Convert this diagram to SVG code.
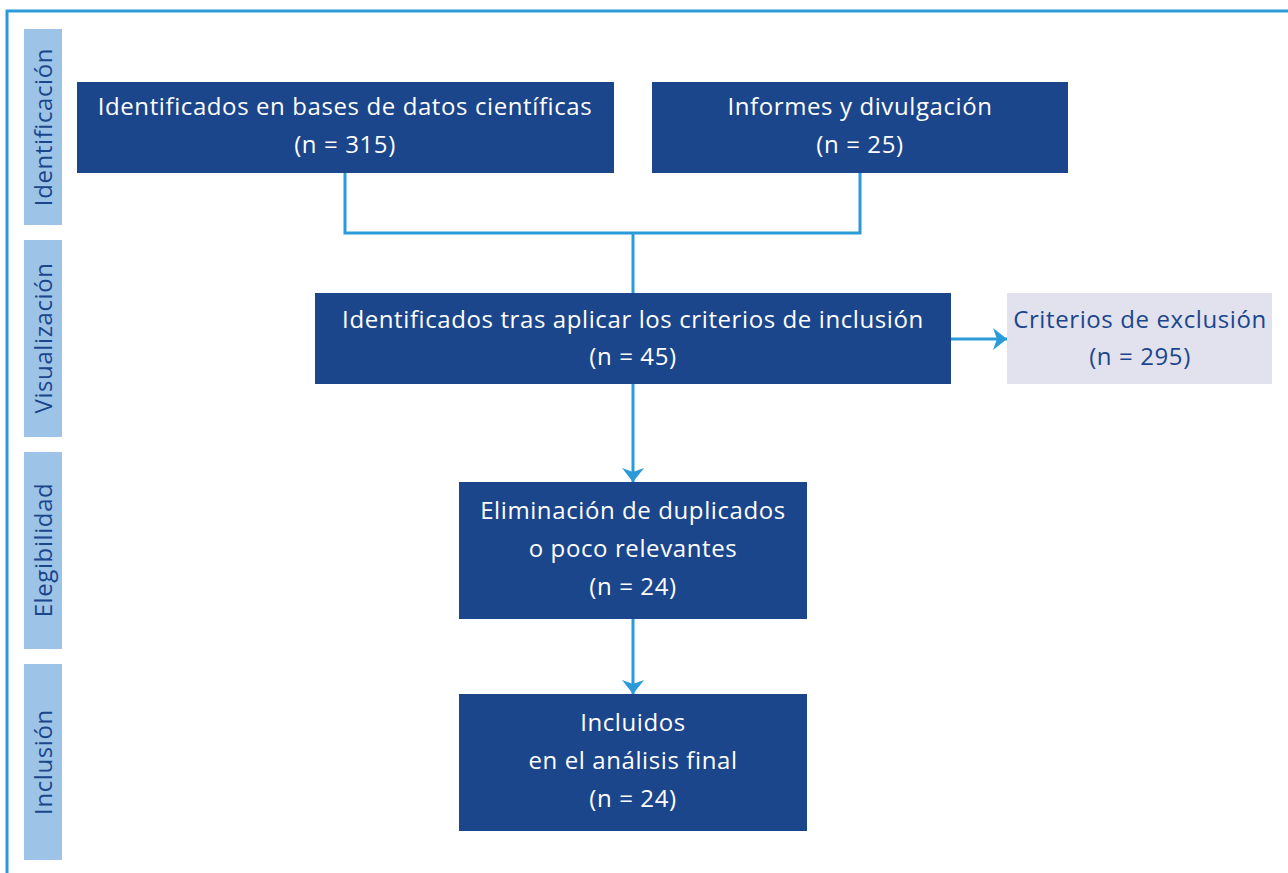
<svg xmlns="http://www.w3.org/2000/svg" width="1288" height="873" viewBox="0 0 1288 873">
<defs>
<style>
.box{fill:#1b468c}
.exc{fill:#e2e1ee}
.band{fill:#9dc3e6}
.t{font-family:"Open Sans","Liberation Sans",sans-serif;font-size:24px;letter-spacing:0.6px;fill:#ffffff;text-anchor:middle}
.te{font-family:"Open Sans","Liberation Sans",sans-serif;font-size:24px;letter-spacing:0.6px;fill:#1b468c;text-anchor:middle}
.tb{font-family:"Open Sans","Liberation Sans",sans-serif;font-size:24px;letter-spacing:0.6px;fill:#1b468c;text-anchor:middle}
.ln{stroke:#2a9ad8;stroke-width:3;fill:none}
</style>
<marker id="arr" viewBox="0 0 14 22" refX="14" refY="11" markerWidth="14" markerHeight="22" markerUnits="userSpaceOnUse" orient="auto">
<path d="M0,0 L14,11 L0,22 L4,11 Z" fill="#2a9ad8"/>
</marker>
</defs>
<rect width="1288" height="873" fill="#ffffff"/>
<path d="M7,873 L7,11 L1288,11" stroke="#2a9ad8" stroke-width="3" fill="none"/>
<g id="band-identificacion"><rect class="band" x="24" y="29" width="38" height="196"/><text class="tb" transform="translate(52,127) rotate(-90)">Identificación</text></g>
<g id="band-visualizacion"><rect class="band" x="24" y="240" width="38" height="197"/><text class="tb" transform="translate(52,338) rotate(-90)">Visualización</text></g>
<g id="band-elegibilidad"><rect class="band" x="24" y="452" width="38" height="197"/><text class="tb" transform="translate(52,550) rotate(-90)">Elegibilidad</text></g>
<g id="band-inclusion"><rect class="band" x="24" y="664" width="38" height="196"/><text class="tb" transform="translate(52,762) rotate(-90)">Inclusión</text></g>
<g id="connectors">
<path class="ln" d="M345,173 L345,233 L860,233 L860,173"/>
<path class="ln" d="M633,233 L633,293"/>
<path class="ln" d="M633,384 L633,482" marker-end="url(#arr)"/>
<path class="ln" d="M633,619 L633,694" marker-end="url(#arr)"/>
<path class="ln" d="M951,339 L1007,339" marker-end="url(#arr)"/>
</g>
<g id="node-bases"><rect class="box" x="77" y="82" width="537" height="91"/><text class="t" x="345" y="115">Identificados en bases de datos científicas</text><text class="t" x="345" y="153">(n = 315)</text></g>
<g id="node-informes"><rect class="box" x="652" y="82" width="416" height="91"/><text class="t" x="860" y="115">Informes y divulgación</text><text class="t" x="860" y="153">(n = 25)</text></g>
<g id="node-criterios"><rect class="box" x="315" y="293" width="636" height="91"/><text class="t" x="633" y="328">Identificados tras aplicar los criterios de inclusión</text><text class="t" x="633" y="365">(n = 45)</text></g>
<g id="node-exclusion"><rect class="exc" x="1007" y="293" width="265" height="91"/><text class="te" x="1140" y="328">Criterios de exclusión</text><text class="te" x="1140" y="365">(n = 295)</text></g>
<g id="node-duplicados"><rect class="box" x="459" y="482" width="348" height="137"/><text class="t" x="633" y="519">Eliminación de duplicados</text><text class="t" x="633" y="557">o poco relevantes</text><text class="t" x="633" y="595">(n = 24)</text></g>
<g id="node-incluidos"><rect class="box" x="459" y="694" width="348" height="137"/><text class="t" x="633" y="731">Incluidos</text><text class="t" x="633" y="769">en el análisis final</text><text class="t" x="633" y="807">(n = 24)</text></g>
</svg>
